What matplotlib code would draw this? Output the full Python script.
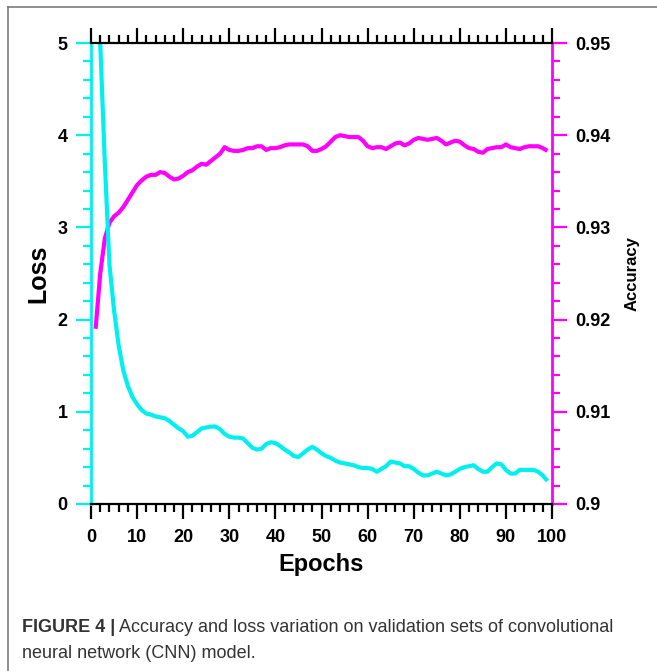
import numpy as np
import matplotlib
matplotlib.use("Agg")
import matplotlib.pyplot as plt
from matplotlib.ticker import MultipleLocator
from matplotlib.lines import Line2D

plt.rcParams['font.family'] = ['Liberation Sans', 'DejaVu Sans']

epochs = list(range(1, 100))
loss = [6.3, 5.0, 3.7, 2.6, 2.1, 1.72, 1.45, 1.28, 1.16, 1.08,
        1.02, 0.98, 0.97, 0.95, 0.94, 0.93, 0.90, 0.86, 0.82, 0.79,
        0.73, 0.74, 0.78, 0.82, 0.83, 0.84, 0.84, 0.81, 0.76, 0.73,
        0.72, 0.72, 0.71, 0.66, 0.61, 0.59, 0.60, 0.65, 0.67, 0.66,
        0.63, 0.59, 0.56, 0.52, 0.51, 0.55, 0.59, 0.62, 0.59, 0.55,
        0.52, 0.50, 0.47, 0.45, 0.44, 0.43, 0.42, 0.40, 0.39, 0.39,
        0.38, 0.35, 0.38, 0.41, 0.46, 0.45, 0.44, 0.41, 0.41, 0.38,
        0.34, 0.31, 0.31, 0.33, 0.35, 0.33, 0.31, 0.32, 0.35, 0.38,
        0.40, 0.41, 0.42, 0.38, 0.35, 0.35, 0.40, 0.44, 0.43, 0.37,
        0.33, 0.33, 0.37, 0.37, 0.37, 0.37, 0.35, 0.31, 0.25]
accuracy = [0.9190, 0.9250, 0.9288, 0.9305, 0.9312, 0.9316, 0.9322, 0.9330, 0.9338, 0.9346,
            0.9351, 0.9355, 0.9357, 0.9357, 0.9360, 0.9359, 0.9355, 0.9352, 0.9353, 0.9356,
            0.9360, 0.9362, 0.9366, 0.9369, 0.9368, 0.9372, 0.9376, 0.9380, 0.9387, 0.9384,
            0.9383, 0.9383, 0.9384, 0.9386, 0.9386, 0.9388, 0.9388, 0.9384, 0.9386, 0.9386,
            0.9387, 0.9389, 0.9390, 0.9390, 0.9390, 0.9390, 0.9388, 0.9383, 0.9383, 0.9385,
            0.9388, 0.9393, 0.9398, 0.9400, 0.9399, 0.9398, 0.9398, 0.9398, 0.9394, 0.9388,
            0.9386, 0.9387, 0.9387, 0.9385, 0.9388, 0.9391, 0.9392, 0.9389, 0.9391, 0.9395,
            0.9397, 0.9396, 0.9395, 0.9396, 0.9397, 0.9394, 0.9390, 0.9392, 0.9394, 0.9393,
            0.9389, 0.9386, 0.9385, 0.9382, 0.9381, 0.9385, 0.9386, 0.9387, 0.9387, 0.9390,
            0.9387, 0.9386, 0.9385, 0.9387, 0.9388, 0.9388, 0.9388, 0.9386, 0.9383]

cyan = '#00f0f0'
magenta = '#ff00ff'

fig = plt.figure(figsize=(6.57, 6.71), dpi=100)
ax = fig.add_axes([91/657, 1-504/671, 461/657, 461/671])
ax2 = ax.twinx()

# cyan on top of magenta
ax.set_zorder(ax2.get_zorder() + 1)
ax.patch.set_visible(False)

ax.plot(epochs, loss, color=cyan, lw=3.0, solid_capstyle='butt')
ax2.plot(epochs, accuracy, color=magenta, lw=3.0, solid_capstyle='butt')

ax.set_xlim(0, 100)
ax.set_ylim(0, 5)
ax2.set_ylim(0.90, 0.95)

ax.xaxis.set_major_locator(MultipleLocator(10))
ax.xaxis.set_minor_locator(MultipleLocator(2))
ax.yaxis.set_major_locator(MultipleLocator(1))
ax.yaxis.set_minor_locator(MultipleLocator(0.2))
ax2.yaxis.set_major_locator(MultipleLocator(0.01))
ax2.yaxis.set_minor_locator(MultipleLocator(0.002))
ax2.yaxis.set_major_formatter(plt.FuncFormatter(lambda v, p: ('%g' % round(v, 3))))

for s in ['top', 'bottom']:
    ax.spines[s].set_color('black')
    ax.spines[s].set_linewidth(1.6)
ax.spines['left'].set_color(cyan)
ax.spines['left'].set_linewidth(2.0)
ax.spines['right'].set_visible(False)
for s in ['left', 'top', 'bottom']:
    ax2.spines[s].set_visible(False)
ax2.spines['right'].set_color(magenta)
ax2.spines['right'].set_linewidth(2.0)

ax.tick_params(axis='x', which='both', direction='out', top=True, bottom=True,
               color='black', width=1.6)
ax.tick_params(axis='x', which='major', length=11, pad=7, labelsize=13)
ax.tick_params(axis='x', which='minor', length=6)
ax.tick_params(axis='y', which='both', direction='out', color=cyan, width=1.6)
ax.tick_params(axis='y', which='major', length=11, pad=6, labelsize=13)
ax.tick_params(axis='y', which='minor', length=6)
ax2.tick_params(axis='y', which='both', direction='out', color=magenta, width=1.6)
ax2.tick_params(axis='y', which='major', length=11, pad=6, labelsize=13)
ax2.tick_params(axis='y', which='minor', length=6)

for lab in ax.get_xticklabels() + ax.get_yticklabels() + ax2.get_yticklabels():
    lab.set_fontweight('bold')

ax.set_xlabel('Epochs', fontsize=17, fontweight='bold', labelpad=5)
ax.set_ylabel('Loss', fontsize=18, fontweight='bold', labelpad=5)
ax2.set_ylabel('Accuracy', fontsize=12, fontweight='bold', labelpad=10)

# grey frame of the figure panel
fig.add_artist(Line2D([8/657, 1.0], [1-7/671, 1-7/671], color='#7a7a7a', lw=1.2))
fig.add_artist(Line2D([8/657, 8/657], [0.0, 1-7/671], color='#7a7a7a', lw=1.2))

cap_y = 1 - 627/671
t1 = fig.text(22/657, cap_y, 'FIGURE 4 |', fontsize=13, fontweight='bold',
              color='#333333', va='center')
fig.canvas.draw()
bb = t1.get_window_extent()
fig.text((bb.x1 + 4) / 657, cap_y,
         'Accuracy and loss variation on validation sets of convolutional',
         fontsize=13, color='#333333', va='center')
fig.text(22/657, 1 - 653/671, 'neural network (CNN) model.', fontsize=13,
         color='#333333', va='center')

fig.savefig('out.png', dpi=100)
